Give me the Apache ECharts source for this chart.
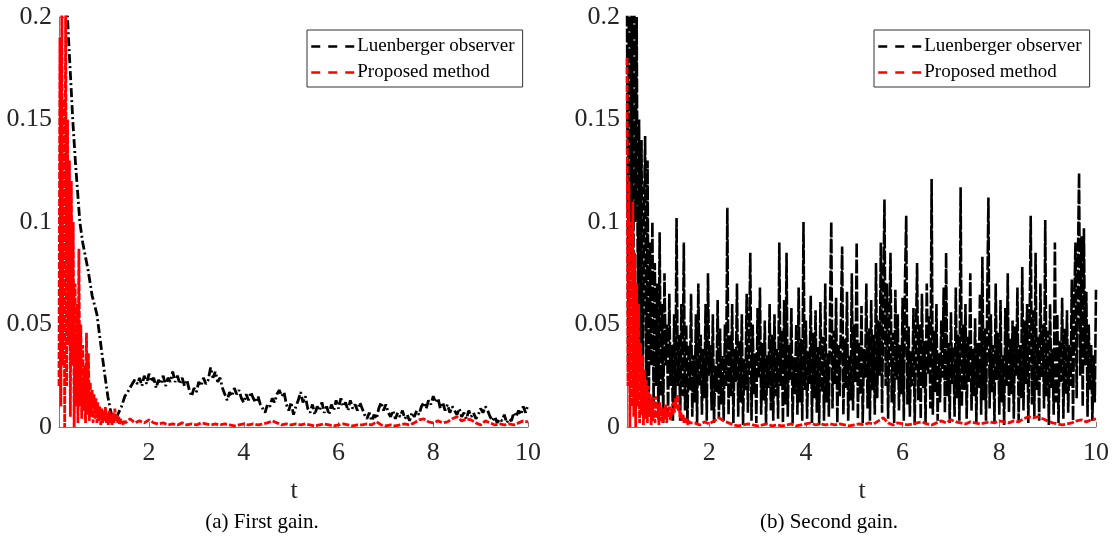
<!DOCTYPE html>
<html>
<head>
<meta charset="utf-8">
<script src="https://cdn.jsdelivr.net/npm/echarts@6/dist/echarts.min.js"></script>
<style>
html,body{margin:0;padding:0;background:#fff;}
#chart{width:1112px;height:540px;}
</style>
</head>
<body>
<div id="chart"></div>
<script>
// ---------------- data ----------------
const seriesNames = ['Luenberger observer', 'Proposed method'];
const xTickValues = [2, 4, 6, 8, 10];
const yTickValues = [0, 0.05, 0.1, 0.15, 0.2];
const axisTitle = 't';
const captions = ['(a) First gain.', '(b) Second gain.'];

// Panel (a) – Luenberger observer: initial descent (explicit times)
const aBlackHeadT = [0.25,0.3,0.35,0.39,0.45,0.54,0.6,0.71,0.8,0.9,1.0,1.07,1.13,1.18,1.24,1.3,1.36,1.42,1.49,1.55,1.62,1.7,1.76];
const aBlackHeadV = [0.215,0.19,0.168,0.15,0.128,0.1,0.09,0.077,0.064,0.055,0.037,0.025,0.015,0.009,0.003,0.004,0.007,0.01,0.015,0.017,0.02,0.023,0.021];
// Panel (a) – Luenberger observer: samples every 0.05 from t = 1.8
const aBlackTailT0 = 1.8, aBlackTailDt = 0.05;
const aBlackTailV = [
0.024,0.020,0.025,0.021,0.026,0.022,0.024,0.019,0.023,0.021,0.025,0.020,0.024,0.022,0.027,0.022,0.025,0.021,0.024,0.020,
0.023,0.018,0.015,0.019,0.017,0.022,0.020,0.024,0.021,0.023,0.029,0.024,0.027,0.022,0.024,0.019,0.016,0.013,0.017,0.015,
0.019,0.016,0.018,0.014,0.012,0.016,0.013,0.017,0.014,0.012,0.015,0.011,0.009,0.007,0.011,0.010,0.014,0.012,0.016,0.018,
0.015,0.017,0.011,0.008,0.012,0.006,0.010,0.013,0.017,0.012,0.015,0.009,0.007,0.011,0.006,0.010,0.008,0.012,0.007,0.010,
0.006,0.011,0.008,0.013,0.009,0.014,0.010,0.012,0.008,0.013,0.009,0.011,0.008,0.012,0.009,0.006,0.004,0.007,0.003,0.006,
0.004,0.009,0.012,0.008,0.011,0.007,0.005,0.008,0.004,0.007,0.005,0.008,0.004,0.006,0.003,0.007,0.005,0.008,0.006,0.010,
0.012,0.009,0.013,0.011,0.015,0.012,0.014,0.009,0.012,0.008,0.011,0.007,0.010,0.008,0.006,0.009,0.005,0.007,0.004,0.008,
0.005,0.007,0.004,0.006,0.009,0.007,0.010,0.008,0.005,0.003,0.005,0.002,0.004,0.003,0.006,0.002,0.004,0.003,0.007,0.005,
0.008,0.006,0.010,0.007,0.011];

// Panel (a) – Proposed method: samples every 0.02 from t = 0.1
const aRedHeadT0 = 0.1, aRedHeadDt = 0.02;
const aRedHeadV = [
0.02,0.19,0.01,0.21,0.03,0.16,0.0,0.21,0.02,0.15,0.04,0.13,0.005,0.12,0.03,0.10,0.0,0.07,0.01,0.06,
0.002,0.087,0.01,0.05,0.004,0.04,0.008,0.03,0.002,0.046,0.006,0.036,0.003,0.022,0.005,0.018,0.002,0.016,0.004,0.014,
0.002,0.012,0.003,0.01,0.001,0.009,0.002,0.008,0.003,0.01,0.002,0.007,0.001,0.008,0.002,0.006,0.001,0.007,0.002,0.009,
0.003,0.006,0.002,0.005,0.001,0.004,0.002,0.003,0.001,0.003,0.002];
// Panel (a) – Proposed method: samples every 0.1 from t = 1.6
const aRedTailT0 = 1.6, aRedTailDt = 0.1;
const aRedTailV = [
0.004,0.002,0.003,0.002,0.0035,0.002,0.0015,0.002,0.001,0.0015,
0.001,0.002,0.001,0.0015,0.001,0.002,0.0015,0.001,0.0015,0.001,
0.0015,0.001,0.0005,0.001,0.0015,0.001,0.0015,0.001,0.0015,0.002,
0.003,0.002,0.001,0.0015,0.001,0.0015,0.001,0.0015,0.001,0.0005,
0.001,0.0015,0.001,0.0005,0.001,0.0015,0.001,0.0005,0.001,0.001,
0.0015,0.001,0.0026,0.001,0.0005,0.001,0.0005,0.001,0.0015,0.001,
0.002,0.0035,0.004,0.0025,0.002,0.003,0.002,0.0025,0.004,0.005,
0.003,0.004,0.0035,0.002,0.001,0.003,0.002,0.001,0.0015,0.001,
0.0015,0.001,0.002,0.003,0.0025];

// Panel (b) – Luenberger observer: samples every 0.025 from t = 0.3
const bBlackT0 = 0.3, bBlackDt = 0.025;
const bBlackV = [
0.21,0.03,0.22,0.08,0.21,0.02,0.22,0.1,0.2,0.06,0.15,0.03,0.14,0.01,0.1,0.142,0.02,0.13,0.005,0.09,
0.03,0.1,0.01,0.08,0.02,0.07,0.004,0.095,0.015,0.06,0.002,0.075,0.03,0.05,0.006,0.065,0.02,0.04,0.003,0.055,
0.01,0.102,0.02,0.045,0.003,0.06,0.015,0.09,0.008,0.05,0.002,0.04,0.018,0.065,0.005,0.035,0.012,0.055,0.001,0.07,
0.02,0.045,0.006,0.038,0.014,0.06,0.003,0.075,0.025,0.04,0.008,0.055,0.002,0.03,0.017,0.062,0.004,0.048,0.011,0.035,
0.003,0.05,0.02,0.107,0.006,0.045,0.015,0.06,0.002,0.038,0.022,0.07,0.005,0.042,0.012,0.055,0.001,0.033,0.018,0.065,
0.007,0.04,0.085,0.003,0.05,0.016,0.036,0.002,0.058,0.024,0.068,0.006,0.041,0.013,0.052,0.001,0.035,0.019,0.06,0.008,
0.045,0.003,0.055,0.015,0.038,0.004,0.09,0.02,0.047,0.002,0.062,0.011,0.085,0.005,0.04,0.023,0.058,0.002,0.034,0.016,
0.05,0.006,0.068,0.012,0.043,0.003,0.1,0.018,0.052,0.004,0.037,0.021,0.064,0.002,0.046,0.014,0.057,0.007,0.039,0.001,
0.061,0.017,0.044,0.003,0.07,0.012,0.036,0.005,0.058,0.1,0.009,0.047,0.021,0.063,0.002,0.04,0.015,0.054,0.088,0.006,
0.043,0.019,0.066,0.003,0.035,0.013,0.075,0.008,0.05,0.022,0.09,0.004,0.041,0.016,0.059,0.002,0.038,0.024,0.07,0.009,
0.048,0.003,0.062,0.018,0.045,0.006,0.08,0.014,0.052,0.025,0.09,0.007,0.06,0.111,0.02,0.07,0.004,0.05,0.085,0.012,
0.046,0.002,0.067,0.023,0.055,0.008,0.04,0.016,0.063,0.003,0.072,0.103,0.011,0.049,0.005,0.037,0.02,0.058,0.001,0.042,
0.08,0.013,0.05,0.004,0.065,0.019,0.042,0.002,0.07,0.026,0.054,0.009,0.121,0.006,0.047,0.017,0.06,0.003,0.036,0.012,
0.052,0.024,0.068,0.007,0.085,0.015,0.041,0.002,0.056,0.021,0.039,0.005,0.068,0.014,0.045,0.003,0.117,0.01,0.05,0.018,
0.06,0.004,0.044,0.022,0.075,0.008,0.038,0.015,0.053,0.002,0.041,0.019,0.065,0.006,0.083,0.013,0.048,0.003,0.06,0.112,
0.009,0.055,0.017,0.04,0.002,0.07,0.023,0.046,0.006,0.062,0.012,0.035,0.001,0.058,0.02,0.075,0.007,0.043,0.016,0.052,
0.004,0.049,0.025,0.068,0.003,0.04,0.014,0.078,0.008,0.052,0.021,0.06,0.002,0.045,0.103,0.011,0.057,0.005,0.085,0.018,
0.044,0.003,0.07,0.024,0.05,0.009,0.101,0.015,0.047,0.001,0.06,0.019,0.038,0.006,0.09,0.012,0.055,0.002,0.042,0.022,
0.063,0.004,0.048,0.016,0.057,0.007,0.04,0.02,0.072,0.003,0.06,0.09,0.014,0.08,0.124,0.025,0.093,0.01,0.097,0.03,
0.066,0.005,0.05,0.018,0.04,0.003,0.035,0.012,0.067];

// Panel (b) – Proposed method: samples every 0.02 from t = 0.3
const bRedHeadT0 = 0.3, bRedHeadDt = 0.02;
const bRedHeadV = [
0.18,0.02,0.12,0.0,0.1,0.01,0.11,0.005,0.085,0.0,0.07,0.01,0.06,0.002,0.041,0.006,0.035,0.001,0.028,0.004,
0.023,0.002,0.02,0.005,0.016,0.001,0.015,0.003,0.013,0.002,0.015,0.004,0.011,0.001,0.012,0.003,0.01,0.002,0.009,0.004,
0.011,0.002,0.008,0.005,0.01,0.003,0.009,0.006,0.012,0.007,0.014,0.009,0.016,0.008,0.011,0.004,0.007,0.003,0.006,0.002,
0.005,0.002,0.004,0.001,0.003,0.002];
// Panel (b) – Proposed method: samples every 0.1 from t = 1.7
const bRedTailT0 = 1.7, bRedTailDt = 0.1;
const bRedTailV = [
0.002,0.001,0.0025,0.0015,0.003,0.0045,0.003,0.002,0.001,0.0005,
0.001,0.0015,0.001,0.0005,0.001,0.0015,0.0005,0.001,0.0005,0.001,
0.0015,0.0005,0.001,0.0015,0.002,0.001,0.0015,0.001,0.0015,0.001,
0.0015,0.001,0.0005,0.001,0.0015,0.001,0.002,0.0015,0.003,0.0045,
0.002,0.001,0.002,0.0015,0.001,0.0015,0.002,0.0025,0.0015,0.001,
0.002,0.003,0.002,0.0035,0.0025,0.002,0.0015,0.0025,0.002,0.0015,
0.002,0.0025,0.002,0.003,0.0025,0.002,0.003,0.0025,0.004,0.005,
0.0045,0.005,0.004,0.003,0.002,0.0015,0.001,0.0015,0.002,0.003,
0.0035,0.0025,0.0035,0.004];

// ---------------- build ----------------
function sampled(t0, dt, vals) {
  return vals.map((v, i) => [Math.round((t0 + i * dt) * 10000) / 10000, v]);
}
function paired(ts, vals) { return ts.map((t, i) => [t, vals[i]]); }

const aBlack = paired(aBlackHeadT, aBlackHeadV).concat(sampled(aBlackTailT0, aBlackTailDt, aBlackTailV));
const aRed = sampled(aRedHeadT0, aRedHeadDt, aRedHeadV).concat(sampled(aRedTailT0, aRedTailDt, aRedTailV));
const bBlack = sampled(bBlackT0, bBlackDt, bBlackV);
const bRed = sampled(bRedHeadT0, bRedHeadDt, bRedHeadV).concat(sampled(bRedTailT0, bRedTailDt, bRedTailV));

const FONT = "'Liberation Serif', 'Times New Roman', serif";
const AXIS_COLOR = '#7a7a7a';
const LABEL_COLOR = '#262626';

function xAxisCfg(gridIndex, min) {
  return {
    type: 'value', gridIndex: gridIndex, min: min, max: 10,
    axisLine: { show: true, onZero: false, lineStyle: { color: AXIS_COLOR, width: 1 } },
    axisTick: { show: true, inside: true, length: 5, customValues: xTickValues, lineStyle: { color: AXIS_COLOR } },
    axisLabel: { customValues: xTickValues, color: LABEL_COLOR, fontFamily: FONT, fontSize: 26, margin: 13 },
    splitLine: { show: false }
  };
}
function yAxisCfg(gridIndex) {
  return {
    type: 'value', gridIndex: gridIndex, min: yTickValues[0], max: yTickValues[yTickValues.length - 1], interval: 0.05,
    axisLine: { show: true, lineStyle: { color: AXIS_COLOR, width: 1 } },
    axisTick: { show: true, inside: true, length: 5, lineStyle: { color: AXIS_COLOR } },
    axisLabel: { color: LABEL_COLOR, fontFamily: FONT, fontSize: 26, margin: 7,
      formatter: v => String(Math.round(v * 100) / 100) },
    splitLine: { show: false }
  };
}
function legendCfg(left) {
  return {
    data: seriesNames, left: left, top: 30, orient: 'vertical',
    itemWidth: 43, itemHeight: 14, itemGap: 7,
    padding: [7, 8, 5, 3],
    borderColor: '#333', borderWidth: 1, backgroundColor: '#fff',
    selectedMode: false,
    textStyle: { fontFamily: FONT, fontSize: 19, color: '#000', padding: [0, 0, 0, -2] },
    lineStyle: { type: [9, 8], width: 2.5 },
    itemStyle: { opacity: 0 }
  };
}

const option = {
  animation: false,
  backgroundColor: '#fff',
  grid: [
    { left: 59, top: 17, width: 469, height: 410 },
    { left: 627, top: 17, width: 471, height: 410 }
  ],
  xAxis: [xAxisCfg(0, 0.1), xAxisCfg(1, 0.3)],
  yAxis: [yAxisCfg(0), yAxisCfg(1)],
  legend: [legendCfg(307), legendCfg(874)],
  series: [
    { name: seriesNames[0], type: 'line', xAxisIndex: 0, yAxisIndex: 0, data: aBlack, symbol: 'none',
      color: '#000', lineStyle: { color: '#000', width: 2.8, type: [9, 3, 2, 3] }, clip: true },
    { name: seriesNames[1], type: 'line', xAxisIndex: 0, yAxisIndex: 0, data: aRed, symbol: 'none',
      color: '#f00', lineStyle: { color: '#f00', width: 2.8, type: [7, 2] }, clip: true },
    { name: seriesNames[0], type: 'line', xAxisIndex: 1, yAxisIndex: 1, data: bBlack, symbol: 'none',
      color: '#000', lineStyle: { color: '#000', width: 2.6, type: [14, 2] }, clip: true },
    { name: seriesNames[1], type: 'line', xAxisIndex: 1, yAxisIndex: 1, data: bRed, symbol: 'none',
      color: '#f00', lineStyle: { color: '#f00', width: 2.8, type: [7, 2] }, clip: true }
  ],
  graphic: [
    { type: 'text', x: 294, y: 491, style: { text: axisTitle, font: '26px ' + FONT, fill: LABEL_COLOR, textAlign: 'center', textVerticalAlign: 'middle' } },
    { type: 'text', x: 862, y: 491, style: { text: axisTitle, font: '26px ' + FONT, fill: LABEL_COLOR, textAlign: 'center', textVerticalAlign: 'middle' } },
    { type: 'text', x: 262, y: 522, style: { text: captions[0], font: '21px ' + FONT, fill: '#000', textAlign: 'center', textVerticalAlign: 'middle' } },
    { type: 'text', x: 829, y: 522, style: { text: captions[1], font: '21px ' + FONT, fill: '#000', textAlign: 'center', textVerticalAlign: 'middle' } }
  ]
};

const chart = echarts.init(document.getElementById('chart'), null, { renderer: 'canvas' });
chart.setOption(option);
</script>
</body>
</html>
